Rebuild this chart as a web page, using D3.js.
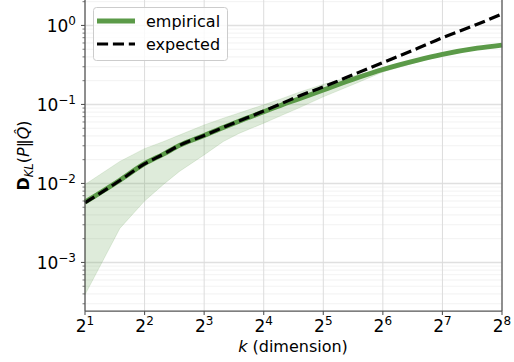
<!DOCTYPE html>
<html>
<head>
  <meta charset="utf-8">
  <script src="https://d3js.org/d3.v7.min.js"></script>
  <style>
    body { margin: 0; background: #fff; }
    text { font-family: "DejaVu Sans", sans-serif; fill: #000; }
  </style>
</head>
<body>
<div id="chart"></div>
<script>

  // dimension k and the read-off values
  var dims     = [2, 3, 4, 5, 6, 8, 10, 12, 16, 20, 24, 32, 48, 64, 96, 128, 192, 256];
  var expected = [0.0057, 0.0109, 0.0177, 0.0236, 0.0303, 0.0405, 0.0512, 0.0616, 0.0824, 0.1045, 0.127, 0.1666, 0.253, 0.339, 0.514, 0.70, 1.035, 1.40];
  var empMean  = [0.0058, 0.0110, 0.0178, 0.0236, 0.0303, 0.0405, 0.0512, 0.0614, 0.0808, 0.100, 0.1174, 0.1527, 0.2197, 0.2773, 0.3648, 0.4305, 0.515, 0.565];
  var empLow   = [0.00039, 0.0027, 0.0060, 0.0098, 0.0142, 0.023, 0.034, 0.043, 0.058, 0.074, 0.090, 0.125, 0.19, 0.258, 0.345, 0.415, 0.50, 0.553];
  var empHigh  = [0.0097, 0.019, 0.0276, 0.034, 0.041, 0.055, 0.067, 0.078, 0.099, 0.12, 0.142, 0.18, 0.238, 0.292, 0.378, 0.445, 0.527, 0.576];
  var xTicks = [1, 2, 3, 4, 5, 6, 7, 8];
  var yTicks = [-3, -2, -1, 0];
  var legendLabels = ['empirical', 'expected'];

  var green = '#5b9a48';
  var W = 514, H = 362;
  var pL = 85, pR = 502, pT = 0, pB = 311;

  var svg = d3.select('#chart').append('svg')
    .attr('width', W).attr('height', H);

  var x = d3.scaleLog().base(2).domain([2, 256]).range([pL, pR]);
  var y = d3.scaleLog().domain([2.43e-4, 2.1]).range([pB, pT]);

  // minor grid (horizontal)
  var minors = [];
  for (var e = -4; e <= 0; e++) {
    for (var m = 2; m <= 9; m++) {
      var v = m * Math.pow(10, e);
      if (v > y.domain()[0] && v < y.domain()[1]) minors.push(v);
    }
  }
  svg.append('g').selectAll('line').data(minors).enter().append('line')
    .attr('x1', pL).attr('x2', pR)
    .attr('y1', function(d){ return y(d); }).attr('y2', function(d){ return y(d); })
    .attr('stroke', '#efefef').attr('stroke-width', 0.8);

  // major grid
  svg.append('g').selectAll('line').data(yTicks).enter().append('line')
    .attr('x1', pL).attr('x2', pR)
    .attr('y1', function(d){ return y(Math.pow(10, d)); }).attr('y2', function(d){ return y(Math.pow(10, d)); })
    .attr('stroke', '#e0e0e0').attr('stroke-width', 1.5);
  svg.append('g').selectAll('line').data(xTicks).enter().append('line')
    .attr('y1', pT).attr('y2', pB)
    .attr('x1', function(d){ return x(Math.pow(2, d)); }).attr('x2', function(d){ return x(Math.pow(2, d)); })
    .attr('stroke', '#dcdcdc').attr('stroke-width', 1);

  var rows = dims.map(function(k, i){
    return {k: k, exp: expected[i], mean: empMean[i], lo: empLow[i], hi: empHigh[i]};
  });

  svg.append('path').datum(rows)
    .attr('fill', green).attr('fill-opacity', 0.2)
    .attr('stroke', green).attr('stroke-opacity', 0.15)
    .attr('d', d3.area()
      .x(function(d){ return x(d.k); })
      .y0(function(d){ return y(d.lo); })
      .y1(function(d){ return y(d.hi); }));

  svg.append('path').datum(rows)
    .attr('fill', 'none').attr('stroke', green).attr('stroke-width', 4.8)
    .attr('d', d3.line().curve(d3.curveMonotoneX)
      .x(function(d){ return x(d.k); })
      .y(function(d){ return y(d.mean); }));

  svg.append('path').datum(rows)
    .attr('fill', 'none').attr('stroke', '#000').attr('stroke-width', 3.2)
    .attr('stroke-dasharray', '11.1,4.8')
    .attr('d', d3.line().curve(d3.curveMonotoneX)
      .x(function(d){ return x(d.k); })
      .y(function(d){ return y(d.exp); }));

  // spines
  var spine = '#555';
  svg.append('line').attr('x1', pL).attr('x2', pL).attr('y1', pT).attr('y2', pB)
    .attr('stroke', spine).attr('stroke-width', 1.25);
  svg.append('line').attr('x1', pR).attr('x2', pR).attr('y1', pT).attr('y2', pB)
    .attr('stroke', spine).attr('stroke-width', 1.25);
  svg.append('line').attr('x1', pL).attr('x2', pR).attr('y1', pB).attr('y2', pB)
    .attr('stroke', spine).attr('stroke-width', 1.25);

  // ticks
  svg.append('g').selectAll('line').data(xTicks).enter().append('line')
    .attr('x1', function(d){ return x(Math.pow(2, d)); }).attr('x2', function(d){ return x(Math.pow(2, d)); })
    .attr('y1', pB).attr('y2', pB + 4)
    .attr('stroke', spine).attr('stroke-width', 1.1);
  svg.append('g').selectAll('line').data(yTicks).enter().append('line')
    .attr('y1', function(d){ return y(Math.pow(10, d)); }).attr('y2', function(d){ return y(Math.pow(10, d)); })
    .attr('x1', pL - 4).attr('x2', pL)
    .attr('stroke', spine).attr('stroke-width', 1.1);
  svg.append('g').selectAll('line').data(minors).enter().append('line')
    .attr('y1', function(d){ return y(d); }).attr('y2', function(d){ return y(d); })
    .attr('x1', pL - 2.5).attr('x2', pL)
    .attr('stroke', spine).attr('stroke-width', 0.8);

  // tick labels
  var xl = svg.append('g').selectAll('text').data(xTicks).enter().append('text')
    .attr('x', function(d){ return x(Math.pow(2, d)); })
    .attr('y', 332)
    .attr('text-anchor', 'middle')
    .style('font-size', '17px');
  xl.append('tspan').text('2');
  xl.append('tspan').attr('dy', -7).style('font-size', '12px').text(function(d){ return d; });

  var yl = svg.append('g').selectAll('text').data(yTicks).enter().append('text')
    .attr('x', 76)
    .attr('y', function(d){ return y(Math.pow(10, d)) + 6.5; })
    .attr('text-anchor', 'end')
    .style('font-size', '17px');
  yl.append('tspan').text('10');
  yl.append('tspan').attr('dy', -7).style('font-size', '12px')
    .text(function(d){ return d < 0 ? '\u2212' + (-d) : d; });

  // axis labels
  var xt = svg.append('text').attr('x', 293).attr('y', 352)
    .attr('text-anchor', 'middle').style('font-size', '16px');
  xt.append('tspan').style('font-style', 'italic').text('k');
  xt.append('tspan').text(' (dimension)');

  var yt = svg.append('text')
    .attr('transform', 'translate(28.5,' + ((pT + pB) / 2) + ') rotate(-90)')
    .attr('text-anchor', 'middle').style('font-size', '16px');
  yt.append('tspan').style('font-weight', 'bold').text('D');
  yt.append('tspan').attr('dy', 4).style('font-size', '11.5px').style('font-style', 'italic').text('KL');
  yt.append('tspan').attr('dy', -4).text('(');
  yt.append('tspan').style('font-style', 'italic').text('P');
  yt.append('tspan').text('\u2016');
  yt.append('tspan').style('font-style', 'italic').text('Q\u0302');
  yt.append('tspan').text(')');

  // legend
  var lg = svg.append('g');
  lg.append('rect').attr('x', 93.5).attr('y', 7.5).attr('width', 134).attr('height', 53)
    .attr('rx', 3).attr('fill', '#fff').attr('fill-opacity', 0.8)
    .attr('stroke', '#ccc').attr('stroke-width', 1);
  lg.append('line').attr('x1', 97).attr('x2', 135).attr('y1', 21).attr('y2', 21)
    .attr('stroke', green).attr('stroke-width', 4.8);
  lg.append('line').attr('x1', 97).attr('x2', 135).attr('y1', 44).attr('y2', 44)
    .attr('stroke', '#000').attr('stroke-width', 3.2).attr('stroke-dasharray', '11.1,4.8');
  lg.selectAll('text.lab').data(legendLabels).enter().append('text')
    .attr('class', 'lab')
    .attr('x', 146).attr('y', function(d, i){ return 27 + i * 23; })
    .style('font-size', '16px')
    .text(function(d){ return d; });

</script>
</body>
</html>
